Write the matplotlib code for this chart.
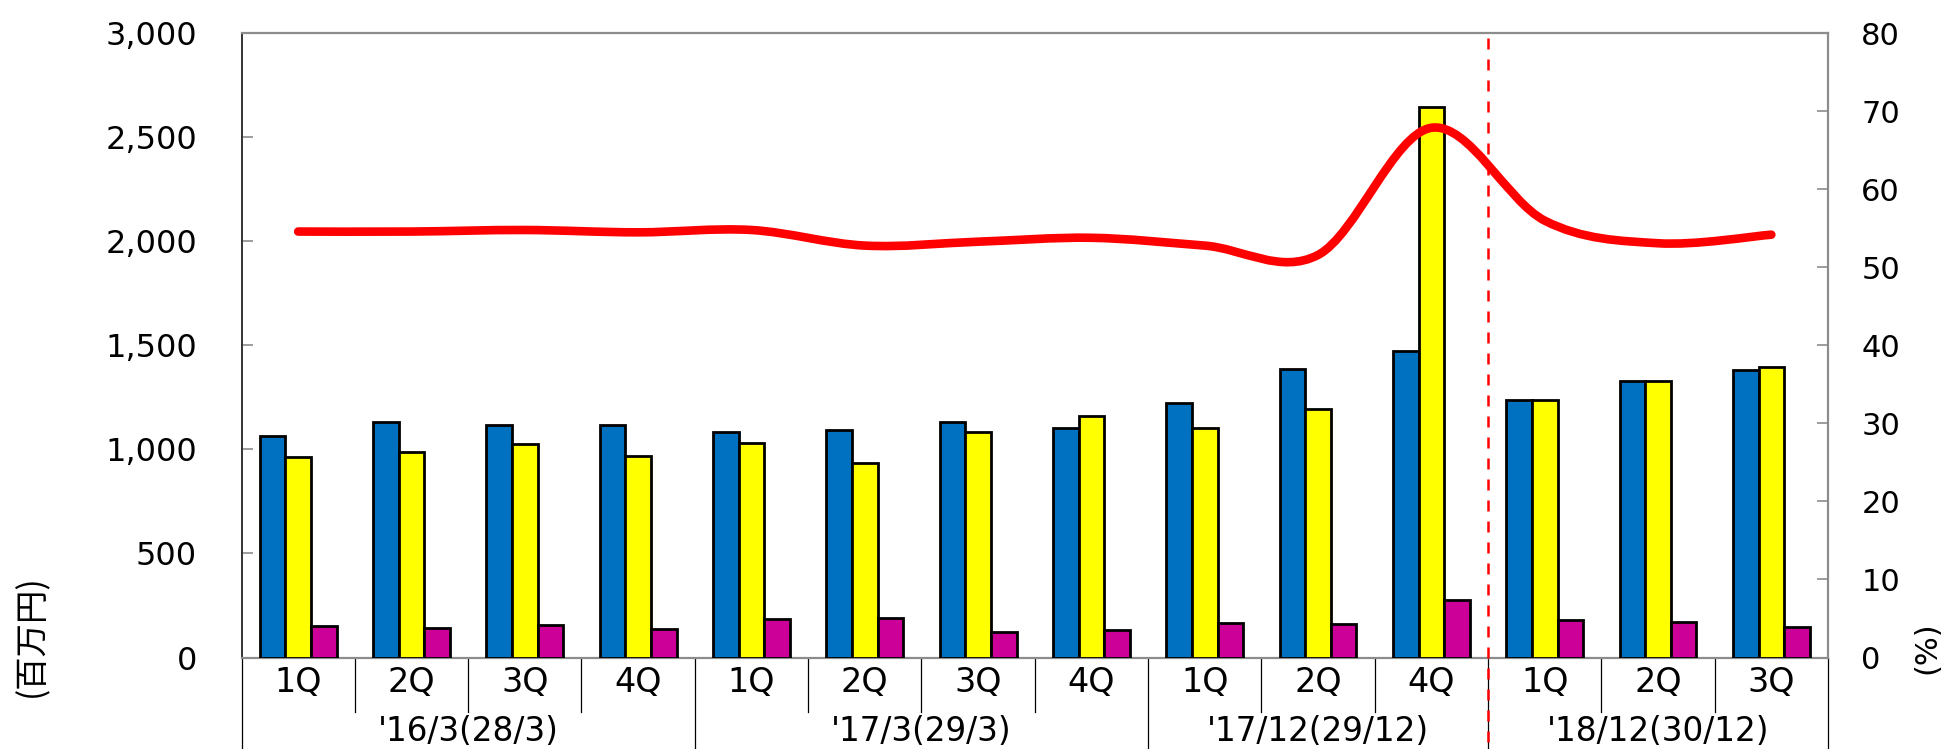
import numpy as np
import matplotlib
matplotlib.use('Agg')
import matplotlib.pyplot as plt
from matplotlib.path import Path
from matplotlib.patches import PathPatch

# quarterly figures (million yen) and ratio (%)
quarters = ['1Q', '2Q', '3Q', '4Q', '1Q', '2Q', '3Q', '4Q',
            '1Q', '2Q', '4Q', '1Q', '2Q', '3Q']
period_labels = ["'16/3(28/3)", "'17/3(29/3)", "'17/12(29/12)",
                 "'18/12(30/12)"]
period_sizes = [4, 4, 3, 3]

blue_vals = [1065, 1134, 1118, 1116, 1083, 1092, 1131, 1103,
             1225, 1387, 1474, 1238, 1330, 1382]
yellow_vals = [965, 988, 1026, 970, 1031, 935, 1086, 1160,
               1102, 1193, 2648, 1238, 1327, 1398]
magenta_vals = [151, 143, 155, 135, 187, 191, 124, 132,
                164, 163, 276, 180, 172, 148]
ratio_vals = [54.6, 54.6, 54.8, 54.5, 54.8, 52.8, 53.3, 53.8,
              52.8, 51.6, 67.9, 56.0, 53.1, 54.2]

BLUE = '#0070C0'
YELLOW = '#FFFF00'
MAGENTA = '#CC0099'
GRID_GRAY = '#8c8c8c'

plt.rcParams['font.family'] = 'DejaVu Sans'


def smooth_path(xs, ys):
    # cubic bezier segments through every point (catmull-rom tangents)
    pts = np.column_stack([xs, ys]).astype(float)
    padded = np.vstack([pts[0], pts, pts[-1]])
    verts = [pts[0]]
    codes = [Path.MOVETO]
    for i in range(len(pts) - 1):
        p0, p1, p2, p3 = padded[i], padded[i + 1], padded[i + 2], padded[i + 3]
        c1 = p1 + (p2 - p0) / 6.0
        c2 = p2 - (p3 - p1) / 6.0
        verts += [c1, c2, p2]
        codes += [Path.CURVE4] * 3
    return Path(verts, codes)


W, H = 1942, 749
fig = plt.figure(figsize=(W / 100, H / 100), dpi=100)
left, right, top, zero = 241.5, 1828, 33.4, 657.5
ax = fig.add_axes([left / W, (H - zero) / H, (right - left) / W,
                   (zero - top) / H])

x = np.arange(len(quarters))
bw = 0.226
edge = dict(edgecolor='black', linewidth=2.0, zorder=3)
ax.bar(x - bw, blue_vals, bw, color=BLUE, **edge)
ax.bar(x, yellow_vals, bw, color=YELLOW, **edge)
ax.bar(x + bw, magenta_vals, bw, color=MAGENTA, **edge)

ax.set_xlim(-0.5, len(quarters) - 0.5)
ax.set_ylim(0, 3000)
ax.set_yticks(np.arange(0, 3001, 500))
ax.set_yticklabels(['{:,}'.format(v) for v in range(0, 3001, 500)])
ax.set_xticks([])
ax.tick_params(axis='y', direction='in', length=8, width=1.2,
               color=GRID_GRAY, labelsize=23, pad=32)

for side in ['top', 'right', 'bottom']:
    ax.spines[side].set_color(GRID_GRAY)
    ax.spines[side].set_linewidth(1.6)
ax.spines['left'].set_color('#333333')
ax.spines['left'].set_linewidth(1.4)

# ratio on the right axis
ax2 = ax.twinx()
ax2.set_ylim(0, 80)
ax2.set_yticks(np.arange(0, 81, 10))
ax2.tick_params(axis='y', direction='in', length=8, width=1.2,
                color=GRID_GRAY, labelsize=22, pad=24)
for side in ['top', 'right', 'bottom', 'left']:
    ax2.spines[side].set_visible(False)
ax2.add_patch(PathPatch(smooth_path(x, ratio_vals), fill=False,
                        edgecolor='#ff0000', linewidth=6.2,
                        capstyle='round', joinstyle='round'))

# category rows below the plot
trans = ax.get_xaxis_transform()
short_end = -(711.7 - zero) / (zero - top)
long_end = -(H - zero) / (zero - top)
group_edges = np.concatenate([[0], np.cumsum(period_sizes)])
for b in range(len(quarters) + 1):
    y_end = long_end if b in group_edges else short_end
    ax.plot([b - 0.5, b - 0.5], [0, y_end], transform=trans,
            color='black', linewidth=0.9, clip_on=False)

q_y = -(682 - zero) / (zero - top)
for xi, q in zip(x, quarters):
    ax.text(xi, q_y, q, transform=trans, ha='center', va='center',
            fontsize=24)

g_y = -(731.5 - zero) / (zero - top)
for i, label in enumerate(period_labels):
    center = (group_edges[i] + group_edges[i + 1]) / 2.0 - 0.5
    ax.text(center, g_y, label, transform=trans, ha='center',
            va='center', fontsize=23.5)

# red dashed separator before the latest fiscal year
split = group_edges[3] - 0.5
sep, = ax.plot([split, split], [0.992, long_end], transform=trans,
               color='#ff0000', linewidth=1.8, clip_on=False, zorder=5)
sep.set_dashes((4.4, 4.0))

fig.text(32 / W, 1 - 636 / H, '(百万円)', rotation=90, ha='center',
         va='center', fontsize=24,
         family=['Noto Sans CJK JP', 'DejaVu Sans'])
fig.text(1927 / W, 1 - 648 / H, '(%)', rotation=90, ha='center',
         va='center', fontsize=22)

fig.savefig('out.png', dpi=100)
